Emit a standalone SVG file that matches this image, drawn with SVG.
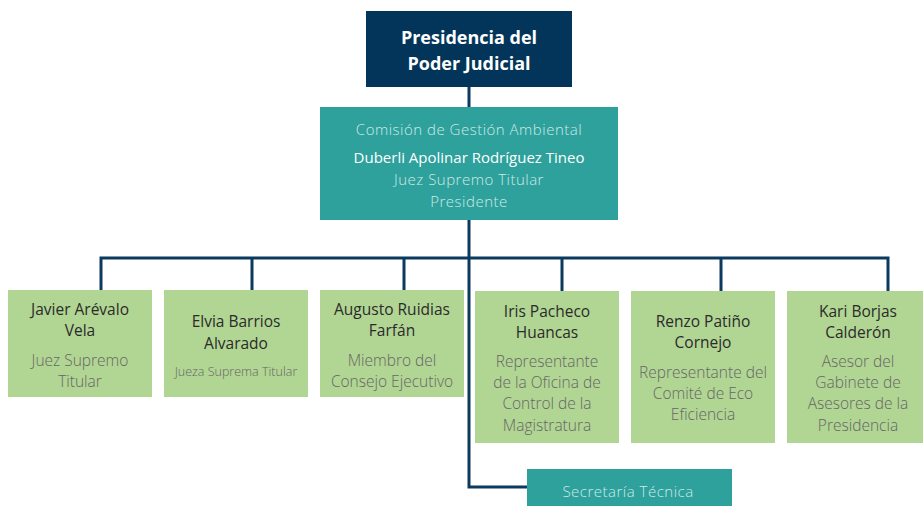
<svg xmlns="http://www.w3.org/2000/svg" width="923" height="506" viewBox="0 0 923 506">
<style>
text{font-family:"Open Sans","Liberation Sans",sans-serif;text-anchor:middle}
.g{fill:#b1d593}
.t{fill:#2ea19c}
.n{font-size:15.5px;fill:#2b2b2b}
.r{font-size:15.5px;fill:#666666;font-weight:300}
.s{font-size:12.5px;fill:#666666;font-weight:300}
.lt{font-size:15px;fill:#cfe9e6;font-weight:300;letter-spacing:0.5px}
.w{font-size:15px;fill:#ffffff}
.c{fill:none;stroke:#0b3a5e;stroke-width:3}
</style>
<rect width="923" height="506" fill="#ffffff"/>
<g id="connectors">
<path class="c" d="M469 87V487H527"/>
<path class="c" d="M101 290V258H888V291"/>
<path class="c" d="M252 258V290M404 258V290M562 258V291M721 258V291"/>
</g>
<g id="presidencia">
<rect x="366" y="11" width="206" height="76" fill="#03355a"/>
<text x="469" y="44" font-size="18" font-weight="700" fill="#ffffff">Presidencia del</text>
<text x="469" y="70" font-size="18" font-weight="700" fill="#ffffff">Poder Judicial</text>
</g>
<g id="comision">
<rect class="t" x="320" y="107" width="298" height="113"/>
<text class="lt" x="469" y="135">Comisión de Gestión Ambiental</text>
<text class="w" x="469" y="163">Duberli Apolinar Rodríguez Tineo</text>
<text class="lt" x="469" y="185">Juez Supremo Titular</text>
<text class="lt" x="469" y="207">Presidente</text>
</g>
<g id="javier">
<rect class="g" x="8" y="290" width="144" height="107"/>
<text class="n" x="80" y="315">Javier Arévalo</text>
<text class="n" x="80" y="336">Vela</text>
<text class="r" x="80" y="366">Juez Supremo</text>
<text class="r" x="80" y="387">Titular</text>
</g>
<g id="elvia">
<rect class="g" x="164" y="290" width="144" height="107"/>
<text class="n" x="236" y="327">Elvia Barrios</text>
<text class="n" x="236" y="349">Alvarado</text>
<text class="s" x="236" y="376">Jueza Suprema Titular</text>
</g>
<g id="augusto">
<rect class="g" x="320" y="290" width="144" height="107"/>
<text class="n" x="392" y="315">Augusto Ruidias</text>
<text class="n" x="392" y="336">Farfán</text>
<text class="r" x="392" y="366">Miembro del</text>
<text class="r" x="392" y="387">Consejo Ejecutivo</text>
</g>
<g id="iris">
<rect class="g" x="475" y="291" width="144" height="152"/>
<text class="n" x="547" y="317">Iris Pacheco</text>
<text class="n" x="547" y="338">Huancas</text>
<text class="r" x="547" y="367">Representante</text>
<text class="r" x="547" y="388">de la Oficina de</text>
<text class="r" x="547" y="409">Control de la</text>
<text class="r" x="547" y="431">Magistratura</text>
</g>
<g id="renzo">
<rect class="g" x="631" y="291" width="144" height="152"/>
<text class="n" x="703" y="327">Renzo Patiño</text>
<text class="n" x="703" y="348">Cornejo</text>
<text class="r" x="703" y="378">Representante del</text>
<text class="r" x="703" y="399">Comité de Eco</text>
<text class="r" x="703" y="420">Eficiencia</text>
</g>
<g id="kari">
<rect class="g" x="787" y="291" width="144" height="152"/>
<text class="n" x="858" y="317">Kari Borjas</text>
<text class="n" x="858" y="338">Calderón</text>
<text class="r" x="858" y="367">Asesor del</text>
<text class="r" x="858" y="388">Gabinete de</text>
<text class="r" x="858" y="409">Asesores de la</text>
<text class="r" x="858" y="431">Presidencia</text>
</g>
<g id="secretaria">
<rect class="t" x="527" y="469" width="205" height="40"/>
<text class="lt" x="628" y="497">Secretaría Técnica</text>
</g>
</svg>
